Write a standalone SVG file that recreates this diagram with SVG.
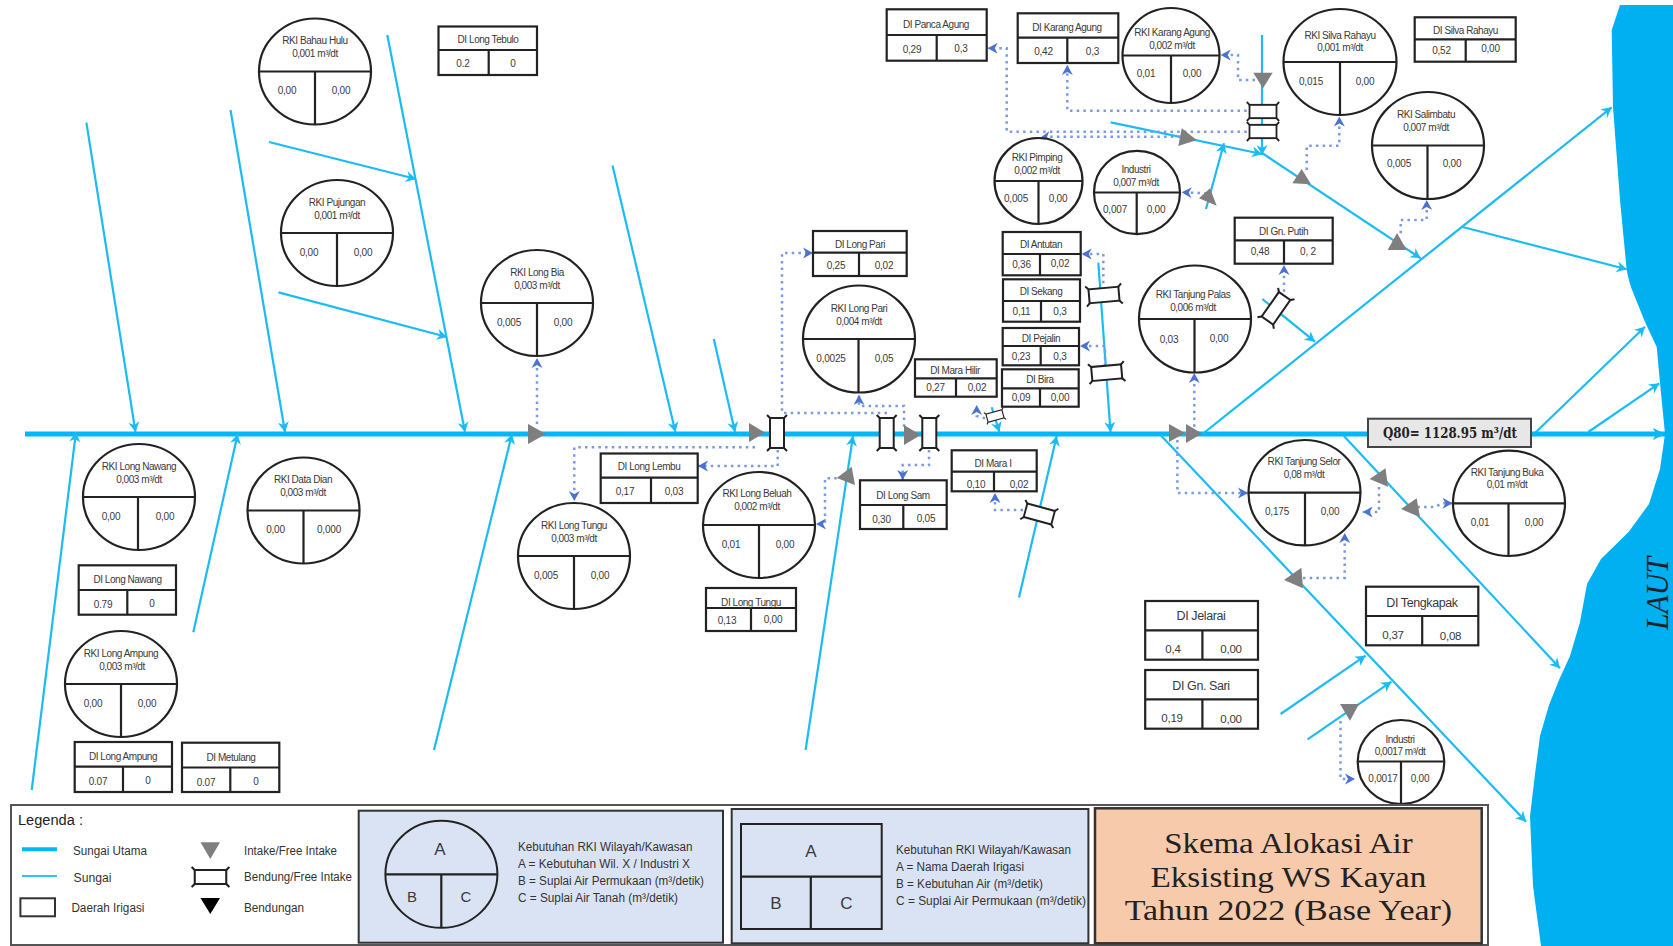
<svg xmlns="http://www.w3.org/2000/svg" width="1673" height="946" viewBox="0 0 1673 946">
<style>
text{font-family:"Liberation Sans",Arial,sans-serif;fill:#3a3a3a;text-anchor:middle}
.c{fill:#fff;stroke:#222;stroke-width:2.2}
.d{fill:none;stroke:#222;stroke-width:2.2}
.t{font-size:10px;letter-spacing:-.45px}
.v{font-size:10px;letter-spacing:-.2px}
.b{font-size:12.5px;letter-spacing:-.4px}
.w{font-size:11.5px;letter-spacing:-.2px}
.r{fill:none;stroke:#1CBBF4;stroke-width:2.2;marker-end:url(#ra)}
.m{fill:none;stroke:#00B8F5;stroke-width:5;marker-end:url(#ma)}
.o{fill:none;stroke:#7A9AE6;stroke-width:2.5;stroke-dasharray:2.5 4.2;marker-end:url(#da)}
.tri{fill:#7F7F7F}
.l{font-size:12.5px;text-anchor:start;fill:#333}
.p{fill:#DAE3F3;stroke:#333;stroke-width:2}
.bd{fill:#fff;stroke:#222;stroke-width:2}
.ti{font-family:"Liberation Serif",serif;fill:#222}
</style>
<defs>
<marker id="ra" markerUnits="userSpaceOnUse" markerWidth="12" markerHeight="12" refX="11" refY="6" orient="auto"><path d="M11,6 L1,.5 L4,6 L1,11.5 Z" fill="#1CBBF4"/></marker>
<marker id="ma" markerUnits="userSpaceOnUse" markerWidth="14" markerHeight="14" refX="13" refY="7" orient="auto"><path d="M13,7 L1,1 L4,7 L1,13 Z" fill="#00B8F5"/></marker>
<marker id="da" markerUnits="userSpaceOnUse" markerWidth="12" markerHeight="14" refX="11" refY="7" orient="auto"><path d="M11,7 L1,1.500 L4,7 L1,12.500 Z" fill="#4A72D0"/></marker>
<g id="bend">
<rect class="bd" x="-15" y="-7" width="30" height="14"/>
<path d="M-15,-7l-3,-3M15,-7l3,-3M-15,7l-3,3M15,7l3,3" stroke="#222" stroke-width="2" fill="none"/>
</g>
</defs>
<rect width="1673" height="946" fill="#fff"/>
<path id="laut-sea" fill="#00B0F0" d="M1620,5 L1611.7,30 L1613,107 L1620,200 L1626.7,270 Q1629,283 1633.3,293 L1645,322 L1656.7,347 L1660,383 L1665,434 L1660,469 L1649,504 L1628.6,532 L1601,559 L1587,584 L1580,622 L1570,656 L1559,680 L1549,705 L1540,736 L1535,774 L1530,816 L1533,886 L1541,946 L1673,946 L1673,5 Z"/>
<text class="ti" transform="translate(1668 593.5) rotate(-90)" font-size="32" font-style="italic" textLength="73" lengthAdjust="spacingAndGlyphs">LAUT</text>
<g id="connectors">
<path class="m" d="M25,434 H1665"/>
<path class="r" d="M86.4,122.7 L135.5,432"/>
<path class="r" d="M230.5,110 L285,432"/>
<path class="r" d="M387.3,35 L465,432"/>
<path class="r" d="M269,142 L416,179"/>
<path class="r" d="M278.5,292.4 L447,337"/>
<path class="r" d="M612.5,165.4 L675.4,432"/>
<path class="r" d="M713.8,339 L735,432"/>
<path class="r" d="M31.7,790 L76,432"/>
<path class="r" d="M193.3,632.3 L237.7,434"/>
<path class="r" d="M434,750 L512,434"/>
<path class="r" d="M805.6,750 L853,436"/>
<path class="r" d="M1019,597.5 L1056.7,436"/>
<path class="r" d="M991.7,407.3 L999.3,432"/>
<path class="r" d="M1098.3,262.7 L1110.5,432"/>
<path class="r" d="M1262,35 V155"/>
<path class="r" d="M1110.7,122.3 L1262,154"/>
<path class="r" d="M1206,209 L1224,143.3"/>
<path class="r" d="M1262,153 L1420.7,258.3"/>
<path class="r" d="M1202.5,434 L1611.7,107.3"/>
<path class="r" d="M1461.7,226.7 L1626.7,269.3"/>
<path class="r" d="M1262.3,299 L1315,341.7"/>
<path class="r" d="M1535,433 L1645,326.7"/>
<path class="r" d="M1588.3,432 L1659.3,383.3"/>
<path class="r" d="M1160.5,435 L1526,821.7"/>
<path class="r" d="M1343,435 L1560,668.3"/>
<path class="r" d="M1280.6,714 L1365.5,655.7"/>
<path class="r" d="M1307.6,739.3 L1391.4,681.7"/>
<path class="o" d="M537,424 V358"/>
<path class="o" d="M755,447.3 H574.300 V501"/>
<path class="o" d="M777.7,450 V466 H698"/>
<path class="o" d="M887,413 H782 V253 H813"/>
<path class="o" d="M904,426.7 V406 H859 V395"/>
<path class="o" d="M929,450 V465 H902.7 V480"/>
<path class="o" d="M836.7,478.3 H825 V524 H816"/>
<path class="o" d="M985,418.3 L976.7,416 V405"/>
<path class="o" d="M1023,510 H995 V493"/>
<path class="o" d="M1103.3,283.3 V254 H1081.7"/>
<path class="o" d="M1105,366 V346 H1080"/>
<path class="o" d="M1194.3,426.7 V373"/>
<path class="o" d="M1284,291.7 V265"/>
<path class="o" d="M1255,80 H1238 V55 H1220.7"/>
<path class="o" d="M1246.7,110.7 H1067.3 V65"/>
<path class="o" d="M1246.7,131.7 H1006.7 V48.3 H987.7"/>
<path class="o" d="M1180,136.7 H1050 L1040,138"/>
<path class="o" d="M1206.7,193.3 L1181.7,192.3"/>
<path class="o" d="M1306.7,170 V145.7 H1339.3 V116.500"/>
<path class="o" d="M1400.7,233.3 V220 H1426.7 V200"/>
<path class="o" d="M1177.4,440 V493 H1248"/>
<path class="o" d="M1379,487 V512 H1362.7"/>
<path class="o" d="M1417.4,507 H1435 L1442,503.300 H1452.500"/>
<path class="o" d="M1303,578 H1344.7 V533"/>
<path class="o" d="M1340.5,721 V779 H1355"/>
</g>
<g id="structures">
<polygon class="tri" points="528,424 546,434 528,444"/>
<polygon class="tri" points="749,423 765,432.5 749,442"/>
<polygon class="tri" points="904,425 920.7,435 904,445"/>
<polygon class="tri" points="836.7,478 851.7,466.7 855,485"/>
<polygon class="tri" points="1169,424 1185,433 1169,442"/>
<polygon class="tri" points="1186,424 1202,433.5 1186,443"/>
<polygon class="tri" points="1253.3,72.7 1272.7,72.7 1263,88.3"/>
<polygon class="tri" points="1181.7,128.3 1196.7,140 1178.3,146"/>
<polygon class="tri" points="1210,188.3 1216.7,205.7 1199,198.3"/>
<polygon class="tri" points="1301.7,169 1311,184.3 1292.3,183.3"/>
<polygon class="tri" points="1397,233 1406.7,250 1387.7,250"/>
<polygon class="tri" points="1369.6,479 1385.5,468.3 1388,486.7"/>
<polygon class="tri" points="1401,509 1416.7,498.3 1420,517.3"/>
<polygon class="tri" points="1284,580 1301.4,567.7 1303,588.3"/>
<polygon class="tri" points="1340,704 1359,704 1350,720.7"/>
<use href="#bend" transform="translate(777 433) rotate(90)"/>
<use href="#bend" transform="translate(886.7 433) rotate(90)"/>
<use href="#bend" transform="translate(929.3 433) rotate(90)"/>
<use href="#bend" transform="translate(995 416) rotate(-15) scale(.55 .6)"/>
<use href="#bend" transform="translate(1039.3 514) rotate(15) scale(.95 1)"/>
<use href="#bend" transform="translate(1104 295) rotate(-5)"/>
<use href="#bend" transform="translate(1106.7 372.7) rotate(-5)"/>
<use href="#bend" transform="translate(1276 308.3) rotate(-55)"/>
<use href="#bend" transform="translate(1263 111.5) scale(.9 .95)"/>
<use href="#bend" transform="translate(1263 131.5) scale(.9 .95)"/>
</g>

<g id="rki-bahau-hulu"><ellipse class="c" cx="315" cy="71.5" rx="56" ry="53"/><path class="d" d="M259,71.5H371M315,71.5V124.5"/><text class="t" x="315" y="44">RKI Bahau Hulu</text><text class="t" x="315" y="57">0,001 m³/dt</text><text class="v" x="287" y="94">0,00</text><text class="v" x="341" y="94">0,00</text></g>
<g id="rki-pujungan"><ellipse class="c" cx="337" cy="233" rx="56" ry="53"/><path class="d" d="M281,233H393M337,233V286"/><text class="t" x="337" y="205.5">RKI Pujungan</text><text class="t" x="337" y="218.5">0,001 m³/dt</text><text class="v" x="309" y="255.5">0,00</text><text class="v" x="363" y="255.5">0,00</text></g>
<g id="rki-long-bia"><ellipse class="c" cx="537" cy="303" rx="56" ry="53"/><path class="d" d="M481,303H593M537,303V356"/><text class="t" x="537" y="275.5">RKI Long Bia</text><text class="t" x="537" y="288.5">0,003 m³/dt</text><text class="v" x="509" y="325.5">0,005</text><text class="v" x="563" y="325.5">0,00</text></g>
<g id="rki-long-nawang"><ellipse class="c" cx="139" cy="497" rx="56" ry="53"/><path class="d" d="M83,497H195M138,497V550"/><text class="t" x="139" y="469.5">RKI Long Nawang</text><text class="t" x="139" y="482.5">0,003 m³/dt</text><text class="v" x="111" y="519.5">0,00</text><text class="v" x="165" y="519.5">0,00</text></g>
<g id="rki-data-dian"><ellipse class="c" cx="303.5" cy="510.5" rx="56" ry="53"/><path class="d" d="M247.5,510.5H359.5M303.5,510.5V563.5"/><text class="t" x="303" y="483">RKI Data Dian</text><text class="t" x="303" y="496">0,003 m³/dt</text><text class="v" x="275.5" y="533">0,00</text><text class="v" x="329" y="533">0,000</text></g>
<g id="rki-long-ampung"><ellipse class="c" cx="121" cy="684" rx="56" ry="53"/><path class="d" d="M65,684H177M121,684V737"/><text class="t" x="121" y="656.5">RKI Long Ampung</text><text class="t" x="122" y="669.5">0,003 m³/dt</text><text class="v" x="93" y="706.5">0,00</text><text class="v" x="147" y="706.5">0,00</text></g>
<g id="rki-long-tungu"><ellipse class="c" cx="574" cy="556" rx="56" ry="53"/><path class="d" d="M518,556H630M574,556V609"/><text class="t" x="574" y="528.5">RKI Long Tungu</text><text class="t" x="574" y="541.5">0,003 m³/dt</text><text class="v" x="546" y="578.5">0,005</text><text class="v" x="600" y="578.5">0,00</text></g>
<g id="rki-long-beluah"><ellipse class="c" cx="759" cy="525" rx="56" ry="53"/><path class="d" d="M703,525H815M759,525V578"/><text class="t" x="757" y="497">RKI Long Beluah</text><text class="t" x="757" y="510">0,002 m³/dt</text><text class="v" x="731" y="547.5">0,01</text><text class="v" x="785" y="547.5">0,00</text></g>
<g id="rki-long-pari"><ellipse class="c" cx="859" cy="339" rx="56" ry="53.5"/><path class="d" d="M803,339H915M858.5,339V392.5"/><text class="t" x="859" y="311.5">RKI Long Pari</text><text class="t" x="859" y="324.5">0,004 m³/dt</text><text class="v" x="831" y="362">0,0025</text><text class="v" x="884" y="362">0,05</text></g>
<g id="rki-pimping"><ellipse class="c" cx="1038.5" cy="181" rx="44" ry="43"/><path class="d" d="M994.5,181H1082.5M1038.5,181V224"/><text class="t" x="1037" y="161">RKI Pimping</text><text class="t" x="1037" y="173.5">0,002 m³/dt</text><text class="v" x="1016" y="201.5">0,005</text><text class="v" x="1058" y="201.5">0,00</text></g>
<g id="industri-1"><ellipse class="c" cx="1137" cy="192.5" rx="43" ry="41.7"/><path class="d" d="M1094,192.5H1180M1136.7,192.5V234"/><text class="t" x="1136" y="172.5">Industri</text><text class="t" x="1136" y="185.5">0,007 m³/dt</text><text class="v" x="1115" y="212.5">0,007</text><text class="v" x="1156" y="212.5">0,00</text></g>
<g id="rki-karang-agung"><ellipse class="c" cx="1171" cy="55.5" rx="48.5" ry="47.5"/><path class="d" d="M1122.5,55.5H1219.5M1171,55.5V103"/><text class="t" x="1172" y="36">RKI Karang Agung</text><text class="t" x="1172" y="48.5">0,002 m³/dt</text><text class="v" x="1146" y="77">0,01</text><text class="v" x="1192" y="77">0,00</text></g>
<g id="rki-silva-rahayu"><ellipse class="c" cx="1340" cy="62" rx="56.5" ry="53"/><path class="d" d="M1283.5,62H1396.5M1340,62V115"/><text class="t" x="1340" y="38.5">RKI Silva Rahayu</text><text class="t" x="1340" y="51">0,001 m³/dt</text><text class="v" x="1311" y="84.5">0,015</text><text class="v" x="1365" y="84.5">0,00</text></g>
<g id="rki-salimbatu"><ellipse class="c" cx="1428" cy="145.5" rx="56" ry="53.5"/><path class="d" d="M1372,145.5H1484M1427.5,145.5V199"/><text class="t" x="1426" y="118">RKI Salimbatu</text><text class="t" x="1426" y="130.5">0,007 m³/dt</text><text class="v" x="1399" y="167">0,005</text><text class="v" x="1452" y="167">0,00</text></g>
<g id="rki-tanjung-palas"><ellipse class="c" cx="1195" cy="319" rx="56" ry="53.5"/><path class="d" d="M1139,319H1251M1194.5,319V372.5"/><text class="t" x="1193" y="298">RKI Tanjung Palas</text><text class="t" x="1193" y="311">0,006 m³/dt</text><text class="v" x="1169" y="343">0,03</text><text class="v" x="1219" y="342">0,00</text></g>
<g id="rki-tanjung-selor"><ellipse class="c" cx="1304.5" cy="492.7" rx="56" ry="52.7"/><path class="d" d="M1248.5,492.7H1360.5M1305,492.7V545.4"/><text class="t" x="1304" y="465">RKI Tanjung Selor</text><text class="t" x="1304" y="477.5">0,08 m³/dt</text><text class="v" x="1277" y="515">0,175</text><text class="v" x="1330" y="515">0,00</text></g>
<g id="rki-tanjung-buka"><ellipse class="c" cx="1509" cy="503.3" rx="56" ry="52.7"/><path class="d" d="M1453,503.3H1565M1508.5,503.3V556"/><text class="t" x="1507" y="476">RKI Tanjung Buka</text><text class="t" x="1507" y="488">0,01 m³/dt</text><text class="v" x="1480" y="525.5">0,01</text><text class="v" x="1534" y="525.5">0,00</text></g>
<g id="industri-2"><ellipse class="c" cx="1401" cy="762" rx="43.3" ry="42"/><path class="d" d="M1357.7,761.5H1444.3M1401,761.5V804"/><text class="t" x="1400" y="743">Industri</text><text class="t" x="1400" y="755">0,0017 m³/dt</text><text class="v" x="1383" y="782">0,0017</text><text class="v" x="1420" y="782">0,00</text></g>

<g id="di-long-tebulo"><rect class="c" x="438.5" y="26.5" width="98.5" height="48.5"/><path class="d" d="M438.5,50H537M488.7,50V75"/><text class="t" x="488" y="43">DI Long Tebulo</text><text class="v" x="463" y="66.5">0.2</text><text class="v" x="513" y="66.5">0</text></g>
<g id="di-panca-agung"><rect class="c" x="886.7" y="9.3" width="100" height="51.4"/><path class="d" d="M886.7,35H986.7M936.7,35V60.7"/><text class="t" x="936" y="27.5">DI Panca Agung</text><text class="v" x="912" y="53">0,29</text><text class="v" x="961" y="52">0,3</text></g>
<g id="di-karang-agung"><rect class="c" x="1017.7" y="13.3" width="100.6" height="49.7"/><path class="d" d="M1017.7,37.7H1118.3M1067.3,37.7V63"/><text class="t" x="1067" y="31">DI Karang Agung</text><text class="v" x="1043.5" y="55">0,42</text><text class="v" x="1092.5" y="55">0,3</text></g>
<g id="di-silva-rahayu"><rect class="c" x="1414.7" y="17.3" width="101" height="44.4"/><path class="d" d="M1414.7,39.3H1515.7M1465.7,39.3V61.7"/><text class="t" x="1465.5" y="33.5">DI Silva Rahayu</text><text class="v" x="1441.5" y="53.5">0,52</text><text class="v" x="1490.5" y="52">0,00</text></g>
<g id="di-gn-putih"><rect class="c" x="1234.7" y="217.7" width="98" height="46"/><path class="d" d="M1234.7,240.3H1332.7M1284,240.3V263.7"/><text class="t" x="1283.5" y="235">DI Gn. Putih</text><text class="v" x="1260" y="255">0,48</text><text class="v" x="1308" y="255">0, 2</text></g>
<g id="di-long-pari"><rect class="c" x="813" y="231" width="93.7" height="45"/><path class="d" d="M813,252.7H906.7M859,252.7V276"/><text class="t" x="860" y="248">DI Long Pari</text><text class="v" x="836" y="269">0,25</text><text class="v" x="884" y="269">0,02</text></g>
<g id="di-antutan"><rect class="c" x="1002.7" y="232" width="78" height="43.3"/><path class="d" d="M1002.7,254H1080.7M1040,254V275.3"/><text class="t" x="1041" y="248">DI Antutan</text><text class="v" x="1021.5" y="268">0,36</text><text class="v" x="1060" y="267">0,02</text></g>
<g id="di-sekang"><rect class="c" x="1003" y="279.3" width="77" height="42.4"/><path class="d" d="M1003,301H1080M1041,301V321.7"/><text class="t" x="1041" y="295">DI Sekang</text><text class="v" x="1021.5" y="315">0,11</text><text class="v" x="1060" y="315">0,3</text></g>
<g id="di-pejalin"><rect class="c" x="1002.7" y="328" width="76.3" height="37.3"/><path class="d" d="M1002.7,346H1079M1040.7,346V365.3"/><text class="t" x="1041" y="342">DI Pejalin</text><text class="v" x="1021" y="360">0,23</text><text class="v" x="1060" y="360">0,3</text></g>
<g id="di-bira"><rect class="c" x="1002" y="369.3" width="76.7" height="37.4"/><path class="d" d="M1002,388.3H1078.7M1040,388.3V406.7"/><text class="t" x="1040" y="383">DI Bira</text><text class="v" x="1021" y="401">0,09</text><text class="v" x="1060" y="401">0,00</text></g>
<g id="di-mara-hilir"><rect class="c" x="915" y="359.3" width="81.7" height="37.4"/><path class="d" d="M915,378.3H996.7M956,378.3V396.7"/><text class="t" x="955" y="374">DI Mara Hilir</text><text class="v" x="935.5" y="391">0,27</text><text class="v" x="977" y="391">0,02</text></g>
<g id="di-mara-i"><rect class="c" x="951.7" y="450.3" width="85" height="41"/><path class="d" d="M951.7,471.7H1036.7M994,471.7V491.3"/><text class="t" x="993" y="467">DI Mara I</text><text class="v" x="976" y="488">0,10</text><text class="v" x="1019" y="488">0,02</text></g>
<g id="di-long-sam"><rect class="c" x="860" y="480.3" width="86.7" height="48.7"/><path class="d" d="M860,505H946.7M903.3,505V529"/><text class="t" x="903" y="499">DI Long Sam</text><text class="v" x="881.5" y="523">0,30</text><text class="v" x="926" y="522">0,05</text></g>
<g id="di-long-lembu"><rect class="c" x="600.7" y="453.5" width="97" height="49.5"/><path class="d" d="M600.7,477.7H697.7M651,477.7V503"/><text class="t" x="649" y="470">DI Long Lembu</text><text class="v" x="625" y="495">0,17</text><text class="v" x="674" y="495">0,03</text></g>
<g id="di-long-tungu"><rect class="c" x="706" y="588" width="90" height="43"/><path class="d" d="M706,608H796M751,608V631"/><text class="t" x="751" y="606">DI Long Tungu</text><text class="v" x="727" y="624">0,13</text><text class="v" x="773" y="623">0,00</text></g>
<g id="di-long-nawang"><rect class="c" x="78.7" y="565.3" width="97.3" height="49.4"/><path class="d" d="M78.7,590H176M127.3,590V614.7"/><text class="t" x="127.5" y="583">DI Long Nawang</text><text class="v" x="103" y="608">0.79</text><text class="v" x="152" y="607">0</text></g>
<g id="di-long-ampung"><rect class="c" x="74.7" y="742" width="97.3" height="50"/><path class="d" d="M74.7,766.7H172M123,766.7V792"/><text class="t" x="123" y="760">DI Long Ampung</text><text class="v" x="98" y="785">0.07</text><text class="v" x="148" y="784">0</text></g>
<g id="di-metulang"><rect class="c" x="182" y="742.7" width="97.3" height="49.3"/><path class="d" d="M182,767.5H279.3M230.3,767.5V792"/><text class="t" x="231" y="761">DI Metulang</text><text class="v" x="206" y="786">0.07</text><text class="v" x="256" y="785">0</text></g>
<g id="di-jelarai"><rect class="c" x="1145.2" y="601" width="112.8" height="58.7"/><path class="d" d="M1145.2,630.3H1258M1202.4,630.3V659.7"/><text class="b" x="1201" y="620">DI Jelarai</text><text class="w" x="1173" y="653">0,4</text><text class="w" x="1231" y="653">0,00</text></g>
<g id="di-gn-sari"><rect class="c" x="1145.2" y="670" width="112.8" height="58.7"/><path class="d" d="M1145.2,699.3H1258M1202.4,699.3V728.7"/><text class="b" x="1201" y="690">DI Gn. Sari</text><text class="w" x="1172" y="722">0,19</text><text class="w" x="1231" y="723">0,00</text></g>
<g id="di-tengkapak"><rect class="c" x="1366" y="586.7" width="112.3" height="58.6"/><path class="d" d="M1366,616H1478.3M1422.2,616V645.3"/><text class="b" x="1422" y="607">DI Tengkapak</text><text class="w" x="1393" y="639">0,37</text><text class="w" x="1450.500" y="640">0,08</text></g>

<g id="q80"><rect x="1368" y="418.7" width="163" height="28.3" fill="#E7E7E7" stroke="#444" stroke-width="2"/><text x="1450" y="438" font-size="14" font-weight="bold" textLength="134" lengthAdjust="spacingAndGlyphs" style="font-family:'DejaVu Serif',serif;fill:#222">Q80= 1128.95 m³/dt</text></g>

<g id="legend">
<rect x="11" y="805" width="1477" height="140" fill="#fff" stroke="#555" stroke-width="2"/>
<text x="18" y="825" font-size="15.5" textLength="65" lengthAdjust="spacingAndGlyphs" style="text-anchor:start;fill:#222">Legenda :</text>
<path d="M22,849.3H57" stroke="#00B8F5" stroke-width="4"/>
<text class="l" x="73" y="855" textLength="74" lengthAdjust="spacingAndGlyphs">Sungai Utama</text>
<path d="M22,876H57" stroke="#2FC6F7" stroke-width="2"/>
<text class="l" x="73.500" y="882" textLength="38" lengthAdjust="spacingAndGlyphs">Sungai</text>
<rect x="20.400" y="898.300" width="34.600" height="18" fill="#fff" stroke="#333" stroke-width="2"/>
<text class="l" x="71.400" y="911.500" textLength="73" lengthAdjust="spacingAndGlyphs">Daerah Irigasi</text>
<polygon class="tri" points="200.500,842.300 220,842.300 210.300,859"/>
<text class="l" x="244" y="854.500" textLength="93" lengthAdjust="spacingAndGlyphs">Intake/Free Intake</text>
<use href="#bend" transform="translate(210.500 877) scale(1.05 1)"/>
<text class="l" x="244" y="881" textLength="108" lengthAdjust="spacingAndGlyphs">Bendung/Free Intake</text>
<polygon points="200.500,898 220,898 210.300,914" fill="#000"/>
<text class="l" x="244" y="911.500" textLength="60" lengthAdjust="spacingAndGlyphs">Bendungan</text>
<rect class="p" x="358.700" y="810.700" width="364.300" height="132"/>
<ellipse cx="441.400" cy="874.300" rx="56" ry="53.500" fill="none" stroke="#222" stroke-width="2"/>
<path class="d" d="M385.400,874.300H497.400M441.300,874.300V927.800"/>
<text x="440" y="854.500" font-size="17">A</text><text x="412" y="901.500" font-size="15">B</text><text x="466" y="901.500" font-size="15">C</text>
<text class="l" x="518" y="851" textLength="174.500" lengthAdjust="spacingAndGlyphs">Kebutuhan RKI Wilayah/Kawasan</text>
<text class="l" x="518" y="868" textLength="172" lengthAdjust="spacingAndGlyphs">A = Kebutuhan Wil. X / Industri  X</text>
<text class="l" x="518" y="884.500" textLength="186" lengthAdjust="spacingAndGlyphs">B = Suplai Air Permukaan (m³/detik)</text>
<text class="l" x="518" y="901.500" textLength="160" lengthAdjust="spacingAndGlyphs">C = Suplai Air Tanah (m³/detik)</text>
<rect class="p" x="731.700" y="809" width="356.700" height="134.300"/>
<rect x="741" y="824" width="140.700" height="105" fill="none" stroke="#222" stroke-width="2"/>
<path class="d" d="M741,876.700H881.700M810.800,876.700V929"/>
<text x="811" y="857" font-size="17">A</text><text x="776" y="908.500" font-size="17">B</text><text x="846.500" y="908.500" font-size="17">C</text>
<text class="l" x="896" y="853.500" textLength="175" lengthAdjust="spacingAndGlyphs">Kebutuhan RKI Wilayah/Kawasan</text>
<text class="l" x="896" y="871" textLength="128" lengthAdjust="spacingAndGlyphs">A = Nama Daerah Irigasi</text>
<text class="l" x="896" y="888" textLength="147" lengthAdjust="spacingAndGlyphs">B = Kebutuhan Air (m³/detik)</text>
<text class="l" x="896" y="905" textLength="190" lengthAdjust="spacingAndGlyphs">C = Suplai Air Permukaan  (m³/detik)</text>
<rect x="1095" y="808.300" width="386.700" height="135" fill="#F7CAAC" stroke="#333" stroke-width="2.500"/>
<text class="ti" x="1288.400" y="853" font-size="30" textLength="248.500" lengthAdjust="spacingAndGlyphs">Skema Alokasi Air</text>
<text class="ti" x="1288.400" y="887" font-size="30" textLength="276" lengthAdjust="spacingAndGlyphs">Eksisting WS Kayan</text>
<text class="ti" x="1288.400" y="920" font-size="30" textLength="327.500" lengthAdjust="spacingAndGlyphs">Tahun 2022 (Base Year)</text>
</g>
</svg>
